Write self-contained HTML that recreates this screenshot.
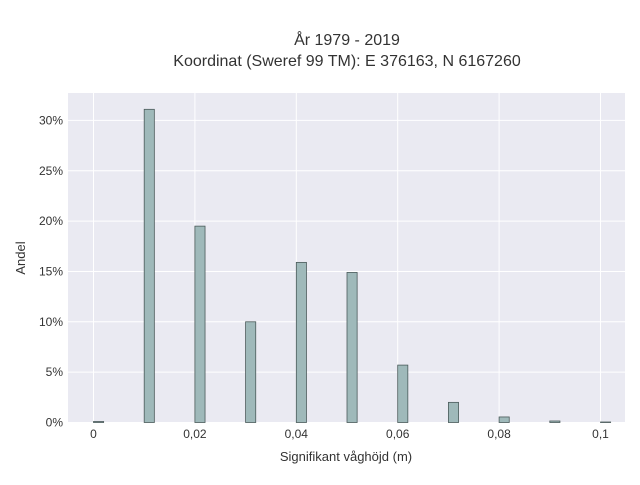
<!DOCTYPE html>
<html><head><meta charset="utf-8"><style>
body{margin:0;background:#fff;}
svg text{font-family:"Liberation Sans","DejaVu Sans",sans-serif;fill:#2a3f5f;}
</style></head><body>
<svg id="chart" width="640" height="480" xmlns="http://www.w3.org/2000/svg">
<rect x="0" y="0" width="640" height="480" fill="#fff"/>
<rect x="68" y="93" width="557" height="330" fill="#eaeaf2"/>
<g id="grid"></g>
<g id="bars"></g>
<g id="ticks"></g>
<text x="347" y="45" text-anchor="middle" font-size="16" style="fill:#333">År 1979 - 2019</text>
<text x="347" y="66" text-anchor="middle" font-size="16" style="fill:#333">Koordinat (Sweref 99 TM): E 376163, N 6167260</text>
<text x="346" y="461" text-anchor="middle" font-size="13" style="fill:#333">Signifikant våghöjd (m)</text>
<text x="25" y="258" text-anchor="middle" font-size="13" transform="rotate(-90 25 258)" style="fill:#333">Andel</text>
</svg>
<script>
const binStarts=[0,0.01,0.02,0.03,0.04,0.05,0.06,0.07,0.08,0.09,0.1];
const shares=[0.1,31.1,19.5,10.0,15.9,14.9,5.7,2.0,0.55,0.15,0.05];
const xTicks=[0,0.02,0.04,0.06,0.08,0.1];
const xTickLabels=["0","0,02","0,04","0,06","0,08","0,1"];
const yTicks=[0,5,10,15,20,25,30];
const yTickLabels=["0%","5%","10%","15%","20%","25%","30%"];
const binWidth=0.002;
const NS="http://www.w3.org/2000/svg";
const xs=v=>93.5+v*5070;
const ys=v=>422.5-v*10.07;
function mk(tag,attrs,parent,txt){const e=document.createElementNS(NS,tag);for(const k in attrs)e.setAttribute(k,attrs[k]);if(txt!==undefined)e.textContent=txt;parent.appendChild(e);return e;}
const g=document.getElementById('grid'),b=document.getElementById('bars'),t=document.getElementById('ticks');
xTicks.forEach((v,i)=>{
 const l=mk('line',{x1:xs(v),x2:xs(v),y1:93,y2:423,stroke:'#fff','stroke-width':1},g);
 
 
 const tx=mk('text',{x:xs(v),y:438,'text-anchor':'middle','font-size':12,style:'fill:#333'},t,xTickLabels[i]);
 
 
});
yTicks.forEach((v,i)=>{
 const l=mk('line',{x1:68,x2:625,y1:ys(v),y2:ys(v),stroke:'#fff','stroke-width':1},g);
 
 
 const tx=mk('text',{x:63,y:ys(v)+4,'text-anchor':'end','font-size':12,style:'fill:#333'},t,yTickLabels[i]);
 
 
});
binStarts.forEach((v,i)=>{
 const x0=xs(v),x1=xs(v+binWidth),y=ys(shares[i]);
 const r=mk('rect',{x:x0,y:y,width:x1-x0,height:422.5-y,fill:'#9fb9ba',stroke:'#4a5a5a','stroke-width':0.8},b);
 
 
});
</script>
</body></html>
